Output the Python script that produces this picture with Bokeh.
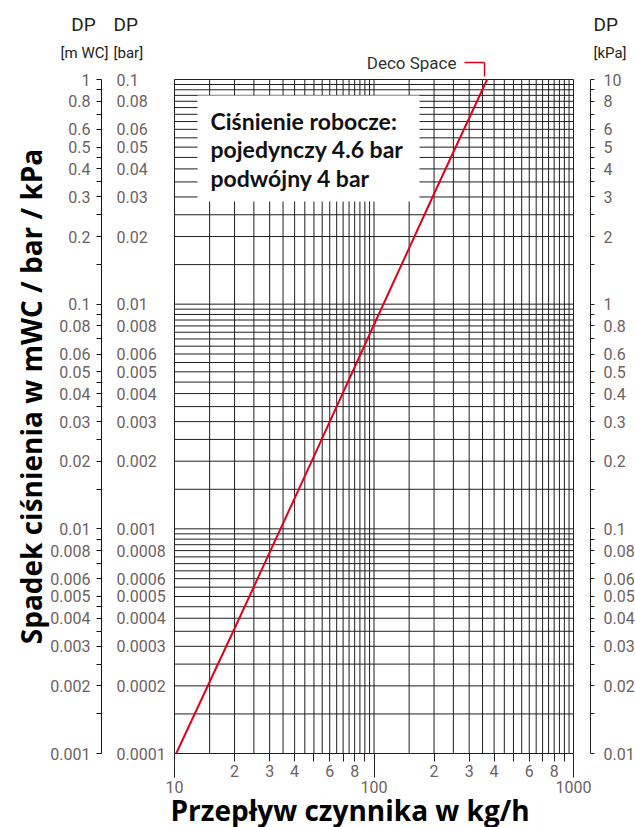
import math
from bokeh.plotting import figure
from bokeh.models import (LogAxis, FixedTicker, Range1d, LogScale,
                          Label, BoxAnnotation, Arrow)
from bokeh.embed import file_html
from bokeh.resources import INLINE

# ---------------- data ----------------
flow_kg_h = [10.2, 20, 50, 100, 200, 369]
dp_mwc = [0.001, 0.0036, 0.021, 0.081, 0.31, 1.0]

series_name = "Deco Space"
info_lines = ["Ciśnienie robocze:", "pojedynczy 4.6 bar", "podwójny 4 bar"]
x_title = "Przepływ czynnika w kg/h"
y_title = "Spadek ciśnienia w mWC / bar / kPa"
header_dp = "DP"
header_units = ["[m WC]", "[bar]", "[kPa]"]

grid_mantissas = [1, 1.5, 2, 2.5, 3, 3.5, 4, 4.5, 5, 5.5, 6, 6.5, 7, 7.5, 8, 8.5, 9, 9.5]
y_tick_mantissas = [1, 1.5, 2, 2.5, 3, 3.5, 4, 4.5, 5, 6, 7, 8, 9]
y_label_mantissas = [1, 2, 3, 4, 5, 6, 8]
x_tick_mantissas = [2, 3, 4, 5, 6, 7, 8, 9]
x_label_mantissas = [2, 3, 4, 6, 8]
x_decades = [10, 100, 1000]
mwc_decades = [0.001, 0.01, 0.1, 1]
bar_decades = [0.0001, 0.001, 0.01, 0.1]
kpa_decades = [0.01, 0.1, 1, 10]

# ---------------- layout constants (page pixels) ----------------
W, H = 635, 827
FL, FR, FT, FB = 174, 573, 79, 753   # chart area edges on the page

TICK_COLOR = "#6e6262"
TICK_FONT = "Roboto"
BOX_FONT = "Lato"
TITLE_FONT = "Open Sans"
GRID_COLOR = "#1e1e1e"
RED = "#e2001a"


def clean(v):
    return float(f"{v:.12g}")


def fmt(v):
    return f"{v:.6f}".rstrip("0").rstrip(".")


def ticks_for(decades, mantissas):
    return [clean(m * d) for d in decades[:-1] for m in mantissas] + [clean(decades[-1])]


def labels_for(decades, mantissas, shown):
    out = {}
    for d in decades[:-1]:
        for m in mantissas:
            v = clean(m * d)
            out[v] = fmt(v) if m in shown else ""
    out[clean(decades[-1])] = fmt(decades[-1])
    return out


def xd(px):
    """page x pixel -> flow value"""
    return 10 ** (1 + 2 * (px - FL) / (FR - FL))


def yd(py):
    """page y pixel -> pressure drop in m WC"""
    return 10 ** (-3 + 3 * (FB - py) / (FB - FT))


p = figure(width=W, height=H, x_axis_type="log", y_axis_type="log",
           x_range=Range1d(xd(0), xd(W)), y_range=Range1d(yd(H), yd(0)),
           x_axis_location=None, y_axis_location=None, title=None,
           toolbar_location=None, output_backend="svg", min_border=0)
p.background_fill_color = "white"
p.border_fill_color = "white"
p.outline_line_color = None
p.xgrid.visible = False
p.ygrid.visible = False

p.extra_y_ranges = {"bar": Range1d(yd(H) / 10, yd(0) / 10),
                    "kpa": Range1d(yd(H) * 10, yd(0) * 10)}
p.extra_y_scales = {"bar": LogScale(), "kpa": LogScale()}

# ---------------- grid (from the tick lists) ----------------
gx = ticks_for(x_decades, grid_mantissas)
gy = ticks_for(mwc_decades, grid_mantissas)
p.segment(x0=gx, x1=gx, y0=[mwc_decades[0]] * len(gx), y1=[mwc_decades[-1]] * len(gx),
          line_color=GRID_COLOR, line_width=1)
p.segment(x0=[x_decades[0]] * len(gy), x1=[x_decades[-1]] * len(gy), y0=gy, y1=gy,
          line_color=GRID_COLOR, line_width=1)


def style_labels(ax):
    ax.major_label_text_font = TICK_FONT
    ax.major_label_text_font_size = "16px"
    ax.major_label_text_color = TICK_COLOR


def no_ticks(ax):
    ax.axis_line_color = None
    ax.major_tick_line_color = None
    ax.minor_tick_line_color = None
    ax.major_tick_out = 0
    ax.major_tick_in = 0
    ax.minor_tick_out = 0
    ax.minor_tick_in = 0


# ---------------- pressure axes ----------------
mwc_axis = LogAxis(fixed_location=xd(101), bounds=(mwc_decades[0], mwc_decades[-1]),
                   ticker=FixedTicker(ticks=ticks_for(mwc_decades, y_tick_mantissas)),
                   major_label_overrides=labels_for(mwc_decades, y_tick_mantissas, y_label_mantissas),
                   axis_line_color="#111111", major_tick_line_color="#111111",
                   minor_tick_line_color=None, minor_tick_out=0, minor_tick_in=0,
                   major_tick_out=5, major_tick_in=0, major_label_standoff=6)
style_labels(mwc_axis)
p.add_layout(mwc_axis, "left")

# bar scale: labels start at a fixed x, left-aligned (drawn as a right-facing axis)
bar_axis = LogAxis(y_range_name="bar", fixed_location=xd(116),
                   bounds=(bar_decades[0], bar_decades[-1]),
                   ticker=FixedTicker(ticks=ticks_for(bar_decades, y_tick_mantissas)),
                   major_label_overrides=labels_for(bar_decades, y_tick_mantissas, y_label_mantissas),
                   major_label_standoff=0)
no_ticks(bar_axis)
style_labels(bar_axis)
p.add_layout(bar_axis, "right")

kpa_axis = LogAxis(y_range_name="kpa", fixed_location=xd(590),
                   bounds=(kpa_decades[0], kpa_decades[-1]),
                   ticker=FixedTicker(ticks=ticks_for(kpa_decades, y_tick_mantissas)),
                   major_label_overrides=labels_for(kpa_decades, y_tick_mantissas, y_label_mantissas),
                   axis_line_color="#222222", major_tick_line_color="#222222",
                   minor_tick_line_color=None, minor_tick_out=0, minor_tick_in=0,
                   major_tick_out=4, major_tick_in=0, major_label_standoff=9)
style_labels(kpa_axis)
p.add_layout(kpa_axis, "right")

# ---------------- flow axes ----------------
x_ticks_small = [clean(m * d) for d in x_decades[:-1] for m in x_tick_mantissas]
x_small_labels = {clean(m * d): (str(m) if m in x_label_mantissas else "")
                  for d in x_decades[:-1] for m in x_tick_mantissas}

# tick marks only: long ticks at decades, short ticks at 2..9
x_axis_ticks = LogAxis(fixed_location=mwc_decades[0], bounds=(x_decades[0], x_decades[-1]),
                       ticker=FixedTicker(ticks=x_decades, minor_ticks=x_ticks_small),
                       major_label_overrides={float(v): "" for v in x_decades},
                       axis_line_color=None, major_tick_line_color="#222222",
                       minor_tick_line_color="#222222",
                       major_tick_out=24, major_tick_in=0, minor_tick_out=8, minor_tick_in=0,
                       major_label_standoff=0)
p.add_layout(x_axis_ticks, "below")

# labels 2 3 4 6 8 just under the short ticks
x_axis_small = LogAxis(fixed_location=mwc_decades[0], bounds=(x_decades[0], x_decades[-1]),
                       ticker=FixedTicker(ticks=x_ticks_small),
                       major_label_overrides=x_small_labels, major_label_standoff=11)
no_ticks(x_axis_small)
style_labels(x_axis_small)
p.add_layout(x_axis_small, "below")

# decade labels one row lower
x_axis_dec = LogAxis(fixed_location=yd(780), bounds=(x_decades[0], x_decades[-1]),
                     ticker=FixedTicker(ticks=x_decades),
                     major_label_overrides={float(v): fmt(v) for v in x_decades},
                     major_label_standoff=0)
no_ticks(x_axis_dec)
style_labels(x_axis_dec)
p.add_layout(x_axis_dec, "below")

# ---------------- data line ----------------
p.line(flow_kg_h, dp_mwc, line_color=RED, line_width=2)

# ---------------- annotations ----------------
p.add_layout(BoxAnnotation(left=xd(197), right=xd(419), top=yd(95), bottom=yd(201),
                           fill_color="white", fill_alpha=1.0, line_color=None))
for txt, mid in zip(info_lines, [120, 148.5, 177]):
    p.add_layout(Label(x=xd(210), y=yd(mid), text=txt, text_font=BOX_FONT,
                       text_font_style="bold", text_font_size="23px",
                       text_color="#111111", text_align="left", text_baseline="middle"))

p.add_layout(Label(x=xd(456), y=yd(62), text=series_name, text_font=TICK_FONT,
                   text_font_size="17px", text_color="#333333",
                   text_align="right", text_baseline="middle"))
p.add_layout(Arrow(end=None, x_start=xd(464), y_start=yd(62), x_end=xd(484), y_end=yd(62),
                   line_color=RED, line_width=1.5))
p.add_layout(Arrow(end=None, x_start=xd(484), y_start=yd(62), x_end=xd(484), y_end=yd(76),
                   line_color=RED, line_width=1.5))

# headers over the pressure scales
header_pos = [(83, "center"), (113, "left"), (593, "left")]
for (hx, al), unit in zip(header_pos, header_units):
    p.add_layout(Label(x=xd(hx), y=yd(24), text=header_dp, text_font=TICK_FONT,
                       text_font_size="19px", text_color="#222222",
                       text_align=al, text_baseline="middle"))
    p.add_layout(Label(x=xd(hx + (1 if al == "center" else 0)), y=yd(52), text=unit,
                       text_font=TICK_FONT, text_font_size="15px", text_color="#222222",
                       text_align=al, text_baseline="middle"))

# axis titles
p.add_layout(Label(x=xd(30), y=yd(396), text=y_title, angle=math.pi / 2,
                   text_font=TITLE_FONT, text_font_style="bold", text_font_size="28px",
                   text_color="#000000", text_align="center", text_baseline="middle"))
p.add_layout(Label(x=xd(170), y=yd(809), text=x_title,
                   text_font=TITLE_FONT, text_font_style="bold", text_font_size="28px",
                   text_color="#000000", text_align="left", text_baseline="middle"))

open("out.html", "w").write(file_html(p, INLINE))
